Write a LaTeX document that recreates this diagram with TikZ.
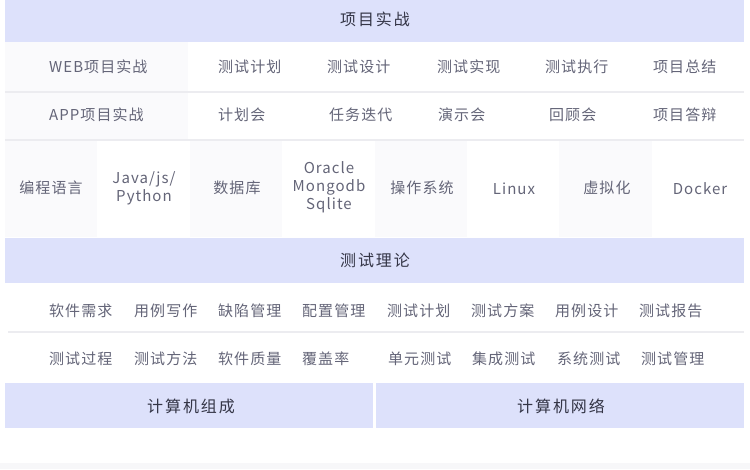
\documentclass[tikz,border=0pt]{standalone}
\usepackage{fontspec}
\setmainfont{Noto Sans CJK SC}[LetterSpace=7]
\newfontfamily\hdfont{Noto Sans CJK SC}[LetterSpace=12]
\definecolor{band}{RGB}{221,225,251}
\definecolor{cellg}{RGB}{250,250,252}
\definecolor{sepc}{RGB}{236,236,240}
\definecolor{itemc}{RGB}{100,101,120}
\definecolor{hdrc}{RGB}{52,53,70}
\definecolor{footc}{RGB}{247,247,249}
\tikzset{
  bandbox/.style={fill=band, draw=none},
  graycell/.style={fill=cellg, draw=none},
  sepline/.style={draw=sepc, line width=1.6pt},
  itemw/.style={anchor=west, inner sep=0pt, text=itemc, font=\fontsize{15}{18}\selectfont},
  itemc/.style={anchor=center, inner sep=0pt, text=itemc, align=center, font=\fontsize{15}{18}\selectfont},
  hdr/.style={anchor=center, inner sep=0pt, text=hdrc, font=\hdfont\fontsize{16}{18}\selectfont}
}
\begin{document}
\begin{tikzpicture}[x=1pt,y=-1pt]
\useasboundingbox (0,0) rectangle (750,469);
\fill[white] (0,0) rectangle (750,469);
% footer strip
\fill[footc] (0,463) rectangle (750,469);
% header 1
\fill[bandbox] (5,0) rectangle (744,42);
\node[hdr] (h1) at (375,19) {项目实战};
% rows 1-2 left gray cells
\fill[graycell] (5,42) rectangle (188,92);
\fill[graycell] (5,93) rectangle (188,139);
\draw[sepline] (5,92) -- (744,92);
\draw[sepline] (5,140) -- (744,140);
% row 1
\node[itemw] (w1) at (49,67) {WEB项目实战};
\node[itemw] (w2) at (218,67) {测试计划};
\node[itemw] (w3) at (327,67) {测试设计};
\node[itemw] (w4) at (437,67) {测试实现};
\node[itemw] (w5) at (545,67) {测试执行};
\node[itemw] (w6) at (653,67) {项目总结};
% row 2
\node[itemw] (a1) at (49,115) {APP项目实战};
\node[itemw] (a2) at (218,115) {计划会};
\node[itemw] (a3) at (329,115) {任务迭代};
\node[itemw] (a4) at (438,115) {演示会};
\node[itemw] (a5) at (549,115) {回顾会};
\node[itemw] (a6) at (653,115) {项目答辩};
% row 3 cells
\fill[graycell] (5,141) rectangle (97,237);
\fill[graycell] (190,141) rectangle (282,237);
\fill[graycell] (375,141) rectangle (467,237);
\fill[graycell] (559,141) rectangle (652,237);
\node[itemc] (c1) at (51,188) {编程语言};
\node[itemc] (c2) at (144,188) {Java/js/\\Python};
\node[itemc] (c3) at (237,188) {数据库};
\node[itemc] (c4) at (329,187) {Oracle\\Mongodb\\Sqlite};
\node[itemc] (c5) at (422,188) {操作系统};
\node[itemc] (c6) at (514,189) {Linux};
\node[itemc] (c7) at (607,188) {虚拟化};
\node[itemc] (c8) at (700,189) {Docker};
% header 2
\fill[bandbox] (5,238) rectangle (744,283);
\node[hdr] (h2) at (375,260) {测试理论};
% theory rows
\draw[sepline] (8,332) -- (744,332);
\node[itemw] (t1) at (49,311) {软件需求};
\node[itemw] (t2) at (134,311) {用例写作};
\node[itemw] (t3) at (218,311) {缺陷管理};
\node[itemw] (t4) at (302,311) {配置管理};
\node[itemw] (t5) at (387,311) {测试计划};
\node[itemw] (t6) at (471,311) {测试方案};
\node[itemw] (t7) at (555,311) {用例设计};
\node[itemw] (t8) at (639,311) {测试报告};
\node[itemw] (s1) at (49,359) {测试过程};
\node[itemw] (s2) at (134,359) {测试方法};
\node[itemw] (s3) at (218,359) {软件质量};
\node[itemw] (s4) at (302,359) {覆盖率};
\node[itemw] (s5) at (388,359) {单元测试};
\node[itemw] (s6) at (472,359) {集成测试};
\node[itemw] (s7) at (557,359) {系统测试};
\node[itemw] (s8) at (641,359) {测试管理};
% bottom bands
\fill[bandbox] (5,383) rectangle (373,428);
\fill[bandbox] (376,383) rectangle (744,428);
\node[hdr] (b1) at (191,406) {计算机组成};
\node[hdr] (b2) at (561,406) {计算机网络};
\end{tikzpicture}
\end{document}
